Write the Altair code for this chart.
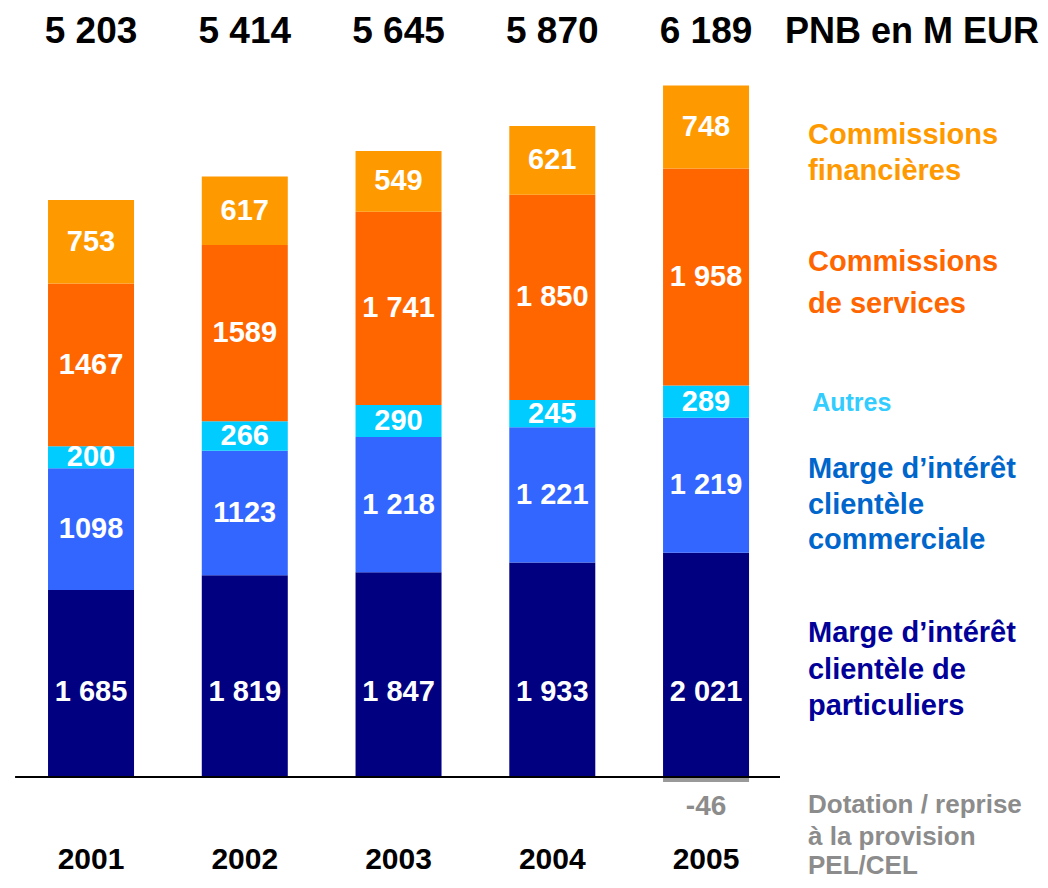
import altair as alt
import pandas as pd

years = ["2001", "2002", "2003", "2004", "2005"]
particuliers = [1685, 1819, 1847, 1933, 2021]
commerciale = [1098, 1123, 1218, 1221, 1219]
autres = [200, 266, 290, 245, 289]
services = [1467, 1589, 1741, 1850, 1958]
financieres = [753, 617, 549, 621, 748]
provision = [0, 0, 0, 0, -46]
totals = ["5 203", "5 414", "5 645", "5 870", "6 189"]

lbl_particuliers = ["1 685", "1 819", "1 847", "1 933", "2 021"]
lbl_commerciale = ["1098", "1123", "1 218", "1 221", "1 219"]
lbl_autres = ["200", "266", "290", "245", "289"]
lbl_services = ["1467", "1589", "1 741", "1 850", "1 958"]
lbl_financieres = ["753", "617", "549", "621", "748"]

series = [
    ("particuliers", particuliers, lbl_particuliers, "#000080"),
    ("commerciale", commerciale, lbl_commerciale, "#3366FF"),
    ("autres", autres, lbl_autres, "#00CCFF"),
    ("services", services, lbl_services, "#FF6600"),
    ("financieres", financieres, lbl_financieres, "#FF9900"),
]

FONT = "Liberation Sans"

rows = []
labels = []
for i, yr in enumerate(years):
    base = 0
    for name, vals, lbls, col in series:
        v = vals[i]
        rows.append({"pos": i, "s": name, "y0": base, "y1": base + v})
        ly = 766 if name == "particuliers" else base + v / 2
        labels.append({"pos": i, "t": lbls[i], "y": ly})
        base += v
    if provision[i] != 0:
        rows.append({"pos": i, "s": "provision", "y0": provision[i], "y1": 0})

bars_df = pd.DataFrame(rows)
labels_df = pd.DataFrame(labels)

xs = alt.Scale(domain=[-0.54, 6.172], nice=False, zero=False, padding=0)
ys = alt.Scale(domain=[-929, 6934], nice=False, zero=False, padding=0)

color_domain = [s[0] for s in series] + ["provision"]
color_range = [s[3] for s in series] + ["#999999"]

bars = alt.Chart(bars_df).mark_bar(size=86).encode(
    x=alt.X("pos:Q", scale=xs, axis=None),
    y=alt.Y("y0:Q", scale=ys, axis=None),
    y2="y1:Q",
    color=alt.Color("s:N", scale=alt.Scale(domain=color_domain, range=color_range), legend=None),
)

seg_text = alt.Chart(labels_df).mark_text(
    font=FONT, fontSize=29, fontWeight="bold", color="white", baseline="middle"
).encode(x=alt.X("pos:Q", scale=xs), y=alt.Y("y:Q", scale=ys), text="t:N")

tot_df = pd.DataFrame({"pos": range(5), "t": totals, "y": [6718] * 5})
tot_text = alt.Chart(tot_df).mark_text(
    font=FONT, fontSize=37, fontWeight="bold", color="black", baseline="middle"
).encode(x=alt.X("pos:Q", scale=xs), y=alt.Y("y:Q", scale=ys), text="t:N")

yr_df = pd.DataFrame({"pos": range(5), "t": years, "y": [-748] * 5})
yr_text = alt.Chart(yr_df).mark_text(
    font=FONT, fontSize=30, fontWeight="bold", color="black", baseline="middle"
).encode(x=alt.X("pos:Q", scale=xs), y=alt.Y("y:Q", scale=ys), text="t:N")

neg_df = pd.DataFrame({"pos": [4], "t": ["-46"], "y": [-270]})
neg_text = alt.Chart(neg_df).mark_text(
    font=FONT, fontSize=28, fontWeight="bold", color="#8C8C8C", baseline="middle"
).encode(x=alt.X("pos:Q", scale=xs), y=alt.Y("y:Q", scale=ys), text="t:N")

rule_df = pd.DataFrame({"x": [-0.494], "x2": [4.481], "y": [0]})
rule = alt.Chart(rule_df).mark_rule(color="black", strokeWidth=2).encode(
    x=alt.X("x:Q", scale=xs), x2="x2:Q", y=alt.Y("y:Q", scale=ys)
)

pnb_df = pd.DataFrame({"x": [4.514], "y": [6718], "t": ["PNB en M EUR"]})
pnb_text = alt.Chart(pnb_df).mark_text(
    font=FONT, fontSize=36, fontWeight="bold", color="black", baseline="middle", align="left"
).encode(x=alt.X("x:Q", scale=xs), y=alt.Y("y:Q", scale=ys), text="t:N")

legend_items = [
    ("Commissions", 5790, "#FF9900", 29, 4.663),
    ("financières", 5465, "#FF9900", 29, 4.663),
    ("Commissions", 4645, "#FF6600", 29, 4.663),
    ("de services", 4266, "#FF6600", 29, 4.663),
    ("Autres", 3375, "#33CCFF", 25, 4.69),
    ("Marge d\u2019intérêt", 2778, "#0066CC", 29, 4.663),
    ("clientèle", 2454, "#0066CC", 29, 4.663),
    ("commerciale", 2138, "#0066CC", 29, 4.663),
    ("Marge d\u2019intérêt", 1300, "#000099", 29, 4.663),
    ("clientèle de", 966, "#000099", 29, 4.663),
    ("particuliers", 641, "#000099", 29, 4.663),
    ("Dotation / reprise", -250, "#8C8C8C", 26, 4.663),
    ("à la provision", -540, "#8C8C8C", 26, 4.663),
    ("PEL/CEL", -800, "#8C8C8C", 26, 4.663),
]
leg_df = pd.DataFrame(legend_items, columns=["t", "y", "c", "fs", "x"])
leg_text = alt.Chart(leg_df).mark_text(
    font=FONT, fontWeight="bold", baseline="middle", align="left"
).encode(
    x=alt.X("x:Q", scale=xs),
    y=alt.Y("y:Q", scale=ys),
    text="t:N",
    color=alt.Color("c:N", scale=None),
    size=alt.Size("fs:Q", scale=None),
)

chart = alt.layer(
    bars, rule, seg_text, tot_text, yr_text, neg_text, pnb_text, leg_text
).properties(
    width=1032, height=872, padding=0, autosize="none"
).configure_view(stroke=None)

chart.save("out.html", embed_options={"renderer": "svg", "actions": False})
